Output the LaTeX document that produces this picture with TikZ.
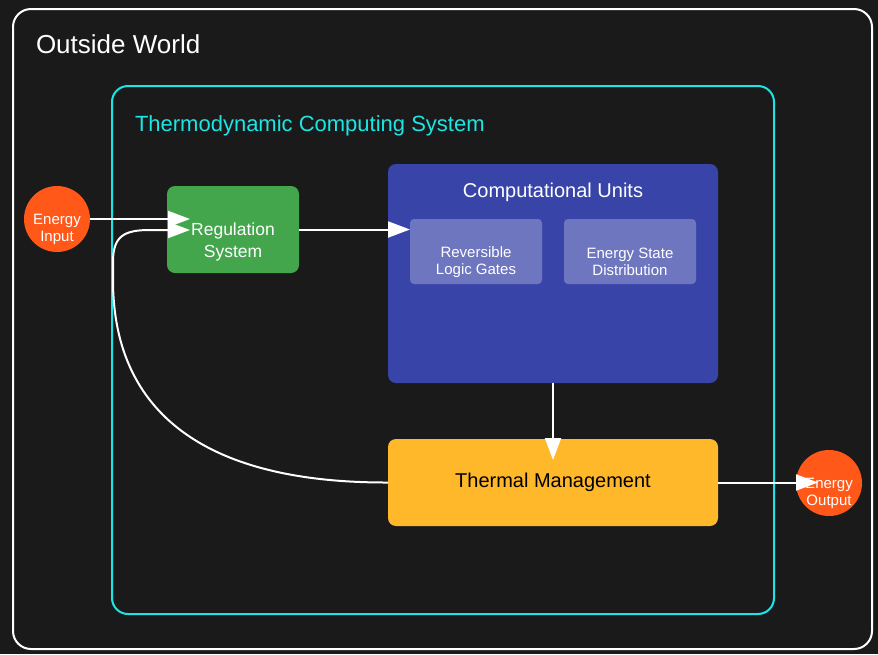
\documentclass[tikz,border=0pt]{standalone}
\usepackage{fontspec}
\setmainfont{Liberation Sans}
\usetikzlibrary{arrows.meta}
\newlength{\du}
\setlength{\du}{1pt}
\definecolor{diabgcolor}{rgb}{0.102000, 0.102000, 0.102000}
\definecolor{diaframecolor}{rgb}{0.110000, 0.900000, 0.900000}
\definecolor{diaregcolor}{rgb}{0.263000, 0.651000, 0.298000}
\definecolor{diacompcolor}{rgb}{0.224000, 0.267000, 0.659000}
\definecolor{diasubcolor}{rgb}{0.431000, 0.463000, 0.749000}
\definecolor{diaheatcolor}{rgb}{1.000000, 0.722000, 0.165000}
\definecolor{diaportcolor}{rgb}{1.000000, 0.345000, 0.098000}
\tikzset{
  frame/.style={rectangle, inner sep=0pt, outer sep=0pt, line width=2\du},
  unit/.style={rectangle, inner sep=0pt, outer sep=0pt, rounded corners=8\du},
  port/.style={circle, inner sep=0pt, outer sep=0pt, minimum size=66\du, fill=diaportcolor},
  label/.style={inner sep=0pt, outer sep=0pt, align=center, text=white},
  flow/.style={draw=white, line width=2\du, -{Triangle[length=22pt, width=16pt]}}
}
\begin{document}
\begin{tikzpicture}
\pgftransformxscale{1.000000}
\pgftransformyscale{-1.000000}
\fill[diabgcolor] (0\du,0\du) rectangle (878\du,654\du);
\useasboundingbox (0\du,0\du) rectangle (878\du,654\du);
% frames
\node[frame, draw=white, rounded corners=18\du, minimum width=859\du, minimum height=640\du] (world) at (442.5\du,329\du) {};
\node[label, anchor=base west, font=\fontsize{26}{31}\selectfont] (worldtitle) at (36\du,53\du) {Outside World};
\node[frame, draw=diaframecolor, rounded corners=16\du, minimum width=662\du, minimum height=528\du] (system) at (443\du,350\du) {};
\node[label, anchor=base west, text=diaframecolor, font=\fontsize{22}{26}\selectfont] (systemtitle) at (135\du,131\du) {Thermodynamic Computing System};
% units
\node[port] (inp) at (57\du,219\du) {};
\node[label, font=\fontsize{15}{17}\selectfont] (inptext) at (57\du,229\du) {Energy\\Input};
\node[unit, fill=diaregcolor, minimum width=132\du, minimum height=87\du] (reg) at (233\du,229.5\du) {};
\node[label, font=\fontsize{17.5}{22}\selectfont] (regtext) at (233\du,241.5\du) {Regulation\\System};
\node[unit, fill=diacompcolor, minimum width=330\du, minimum height=219\du] (comp) at (553\du,273.5\du) {};
\node[label, anchor=base, font=\fontsize{20}{24}\selectfont] (comptitle) at (553\du,197\du) {Computational Units};
\node[unit, rounded corners=4\du, fill=diasubcolor, minimum width=132\du, minimum height=65\du] (rev) at (476\du,251.5\du) {};
\node[label, font=\fontsize{15}{17}\selectfont] (revtext) at (476\du,262\du) {Reversible\\Logic Gates};
\node[unit, rounded corners=4\du, fill=diasubcolor, minimum width=132\du, minimum height=65\du] (dist) at (630\du,251.5\du) {};
\node[label, font=\fontsize{15}{17}\selectfont] (disttext) at (630\du,262\du) {Energy State\\Distribution};
\node[unit, fill=diaheatcolor, minimum width=330\du, minimum height=87\du, font=\fontsize{20}{24}\selectfont] (heat) at (553\du,482.5\du) {Thermal Management};
\node[port] (out) at (829\du,483\du) {};
\node[label, font=\fontsize{15}{17}\selectfont] (outtext) at (829\du,493\du) {Energy\\Output};
% connectors
\coordinate (regin) at (190\du,218\du);
\coordinate (regloop) at (190\du,230\du);
\coordinate (heatin) at (553\du,460\du);
\coordinate (outin) at (818\du,483\du);
\draw[flow] (inp.east) -- (regin |- inp.east);
\draw[flow] (reg.east) -- (reg.east -| rev.west);
\draw[flow] (comp.south) -- (heatin);
\draw[flow] (heat.east) -- (outin |- heat.east);
\draw[flow] (heat.west) .. controls (195\du,483\du) and (113\du,405\du) .. (113\du,280\du) -- (113\du,262\du) .. controls (113\du,236\du) and (124\du,230\du) .. (150\du,230\du) -- (regloop);
\end{tikzpicture}
\end{document}
